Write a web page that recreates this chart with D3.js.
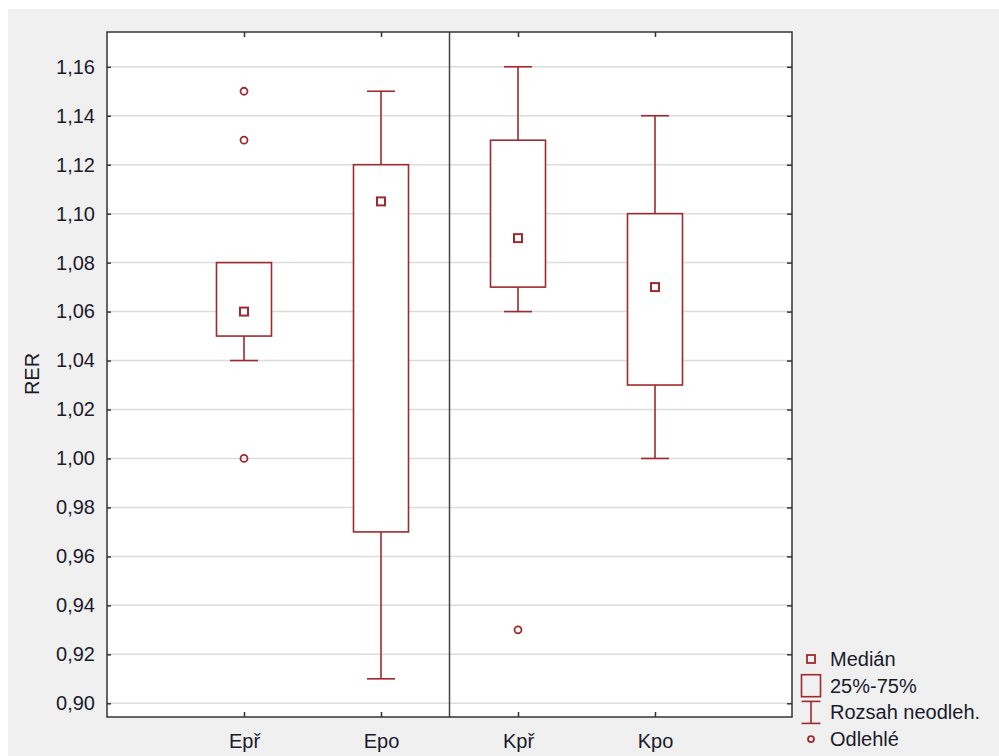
<!DOCTYPE html>
<html>
<head>
<meta charset="utf-8">
<script src="https://cdn.jsdelivr.net/npm/d3@7"></script>
<style>
  html, body { margin: 0; padding: 0; background: #ffffff; }
  svg { display: block; }
</style>
</head>
<body>
<svg id="chart" width="999" height="756"></svg>
<script>
// Box-plot statistics for RER per group
const categories = ["Epř", "Epo", "Kpř", "Kpo"];
const medians    = [1.06, 1.105, 1.09, 1.07];
const q1         = [1.05, 0.97, 1.07, 1.03];
const q3         = [1.08, 1.12, 1.13, 1.10];
const whiskerLow = [1.04, 0.91, 1.06, 1.00];
const whiskerHigh= [1.08, 1.15, 1.16, 1.14];
const outliers   = [[1.15, 1.13, 1.00], [], [0.93], []];
const yTicks     = [0.90, 0.92, 0.94, 0.96, 0.98, 1.00, 1.02, 1.04, 1.06, 1.08, 1.10, 1.12, 1.14, 1.16];
const legendLabels = ["Medián", "25%-75%", "Rozsah neodleh.", "Odlehlé"];

const markColor = "#9e2a2e";
const font = "'Liberation Sans', Arial, sans-serif";
const fontSize = 20;

const svg = d3.select("#chart");
const plot = { left: 107, top: 32, right: 792, bottom: 717 };

// Panel background
svg.append("rect").attr("x", 8).attr("y", 9).attr("width", 991).attr("height", 747).attr("fill", "#f0f0f0");
svg.append("rect").attr("x", plot.left).attr("y", plot.top)
  .attr("width", plot.right - plot.left).attr("height", plot.bottom - plot.top).attr("fill", "#ffffff");

const y = d3.scaleLinear().domain([0.8944, 1.1742]).range([plot.bottom, plot.top]);
const x = d3.scalePoint().domain(categories).range([plot.left, plot.right]).padding(1);

const fmt = v => d3.format(".2f")(v).replace(".", ",");

// Horizontal gridlines
svg.append("g").selectAll("line").data(yTicks).join("line")
  .attr("x1", plot.left).attr("x2", plot.right)
  .attr("y1", d => y(d)).attr("y2", d => y(d))
  .attr("stroke", "#dcdcdc").attr("stroke-width", 1.5);

// Left axis with inward ticks
const yAxis = svg.append("g").attr("transform", `translate(${plot.left},0)`)
  .call(d3.axisLeft(y).tickValues(yTicks).tickFormat(fmt).tickSizeInner(-4).tickSizeOuter(0).tickPadding(12));
yAxis.select(".domain").remove();
yAxis.selectAll(".tick line").attr("stroke", "#333").attr("stroke-width", 1.5);
yAxis.selectAll(".tick text").attr("font-family", font).attr("font-size", fontSize).attr("fill", "#1a1a2a");

// Right axis ticks (no labels)
const yAxisR = svg.append("g").attr("transform", `translate(${plot.right},0)`)
  .call(d3.axisRight(y).tickValues(yTicks).tickFormat("").tickSizeInner(-5).tickSizeOuter(0));
yAxisR.select(".domain").remove();
yAxisR.selectAll(".tick line").attr("stroke", "#333").attr("stroke-width", 1.5);

// Bottom axis
const xAxis = svg.append("g").attr("transform", `translate(0,${plot.bottom})`)
  .call(d3.axisBottom(x).tickSizeInner(-5).tickSizeOuter(0).tickPadding(17));
xAxis.select(".domain").remove();
xAxis.selectAll(".tick line").attr("stroke", "#333").attr("stroke-width", 1.5);
xAxis.selectAll(".tick text").attr("font-family", font).attr("font-size", fontSize).attr("fill", "#1a1a2a");

// Top axis ticks
const xAxisT = svg.append("g").attr("transform", `translate(0,${plot.top})`)
  .call(d3.axisTop(x).tickFormat("").tickSizeInner(-5).tickSizeOuter(0));
xAxisT.select(".domain").remove();
xAxisT.selectAll(".tick line").attr("stroke", "#333").attr("stroke-width", 1.5);

// Group separator
const sepX = (x("Epo") + x("Kpř")) / 2;
svg.append("line").attr("x1", sepX).attr("x2", sepX).attr("y1", plot.top).attr("y2", plot.bottom)
  .attr("stroke", "#444").attr("stroke-width", 1.5);

// Plot frame
svg.append("rect").attr("x", plot.left).attr("y", plot.top)
  .attr("width", plot.right - plot.left).attr("height", plot.bottom - plot.top)
  .attr("fill", "none").attr("stroke", "#333").attr("stroke-width", 1.5);

// Y-axis title
svg.append("text").attr("transform", `translate(39,374) rotate(-90)`)
  .attr("text-anchor", "middle").attr("font-family", font).attr("font-size", fontSize).attr("fill", "#1a1a2a")
  .text("RER");

// Boxes
const boxW = 55, capW = 28, medS = 8;
const boxes = svg.append("g");
categories.forEach((c, i) => {
  const cx = x(c);
  const g = boxes.append("g").attr("stroke", markColor).attr("stroke-width", 1.6).attr("fill", "none");
  // lower whisker
  if (whiskerLow[i] < q1[i]) {
    g.append("line").attr("x1", cx).attr("x2", cx).attr("y1", y(q1[i])).attr("y2", y(whiskerLow[i]));
    g.append("line").attr("x1", cx - capW / 2).attr("x2", cx + capW / 2).attr("y1", y(whiskerLow[i])).attr("y2", y(whiskerLow[i]));
  }
  // upper whisker
  if (whiskerHigh[i] > q3[i]) {
    g.append("line").attr("x1", cx).attr("x2", cx).attr("y1", y(q3[i])).attr("y2", y(whiskerHigh[i]));
    g.append("line").attr("x1", cx - capW / 2).attr("x2", cx + capW / 2).attr("y1", y(whiskerHigh[i])).attr("y2", y(whiskerHigh[i]));
  }
  // interquartile box
  g.append("rect").attr("x", cx - boxW / 2).attr("y", y(q3[i]))
    .attr("width", boxW).attr("height", y(q1[i]) - y(q3[i])).attr("fill", "#ffffff");
  // median marker
  g.append("rect").attr("x", cx - medS / 2).attr("y", y(medians[i]) - medS / 2)
    .attr("width", medS).attr("height", medS).attr("stroke-width", 2);
  // outliers
  outliers[i].forEach(v => {
    g.append("circle").attr("cx", cx).attr("cy", y(v)).attr("r", 3.5).attr("stroke-width", 1.8);
  });
});

// Legend
const legX = 811, legY0 = 659, legStep = 26.7;
const leg = svg.append("g");
legendLabels.forEach((lab, i) => {
  const ly = legY0 + i * legStep;
  const g = leg.append("g").attr("stroke", markColor).attr("fill", "none").attr("stroke-width", 1.6);
  if (i === 0) {
    g.append("rect").attr("x", legX - 4).attr("y", ly - 4).attr("width", 8).attr("height", 8).attr("stroke-width", 1.8);
  } else if (i === 1) {
    g.append("rect").attr("x", legX - 9.5).attr("y", ly - 11).attr("width", 19).attr("height", 22);
  } else if (i === 2) {
    g.append("line").attr("x1", legX).attr("x2", legX).attr("y1", ly - 11).attr("y2", ly + 11);
    g.append("line").attr("x1", legX - 9.5).attr("x2", legX + 9.5).attr("y1", ly - 11).attr("y2", ly - 11);
    g.append("line").attr("x1", legX - 9.5).attr("x2", legX + 9.5).attr("y1", ly + 11).attr("y2", ly + 11);
  } else {
    g.append("circle").attr("cx", legX).attr("cy", ly).attr("r", 3).attr("stroke-width", 1.8);
  }
  leg.append("text").attr("x", 830).attr("y", ly + 7)
    .attr("font-family", font).attr("font-size", fontSize).attr("fill", "#1a1a2a").text(lab);
});
</script>
</body>
</html>
